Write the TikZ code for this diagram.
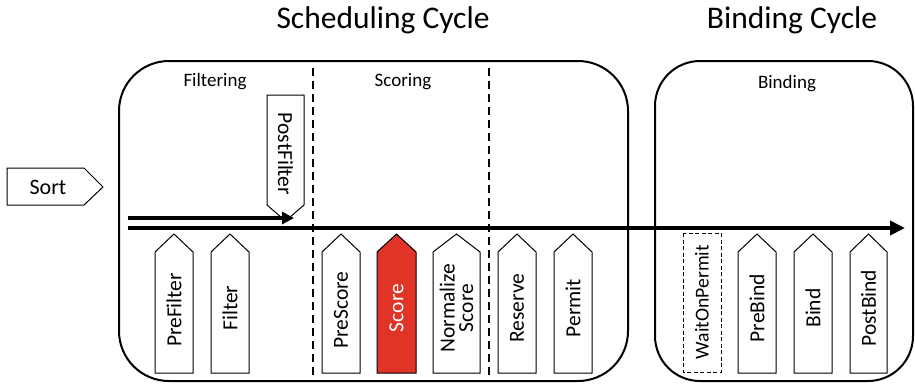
\documentclass[tikz,border=0pt]{standalone}
\usepackage{fontspec}
\setmainfont{Carlito}
\usetikzlibrary{arrows.meta}
\definecolor{scorered}{RGB}{224,52,38}
\tikzset{
  cyclebox/.style={draw, line width=2pt},
  sep/.style={draw, line width=1.5pt, dash pattern=on 8pt off 5pt},
  pent/.style={draw, line width=1pt, fill=white},
  boxtext/.style={font=\fontsize{21.5}{21.5}\selectfont, inner sep=0pt, rotate=90},
  phase/.style={font=\fontsize{19}{19}\selectfont, inner sep=0pt},
  title/.style={font=\fontsize{31.5}{31.5}\selectfont, inner sep=0pt},
  flow/.style={line width=4pt, -{Triangle[length=15pt,width=14pt]}},
}
\newcommand{\uppent}[5]{% x1, x2, label name, text, fill
  \path[pent, fill=#5] (#1,373) -- (#1,252) -- ({(#1+#2)/2},234) -- (#2,252) -- (#2,373) -- cycle;
}
\begin{document}
\begin{tikzpicture}[x=1pt,y=-1pt]
\useasboundingbox (0,0) rectangle (915,384);
% titles
\node[title] (tsched) at (383,20) {Scheduling Cycle};
\node[title] (tbind) at (792,20) {Binding Cycle};
% cycle boxes
\draw[cyclebox, rounded corners=50pt] (119,61) rectangle (628,381);
\draw[cyclebox, rounded corners=45pt] (655,61) rectangle (913,381);
% separators
\draw[sep] (313,68) -- (313,381);
\draw[sep] (489,68) -- (489,381);
% phase labels
\node[phase] (lfilt) at (215,82) {Filtering};
\node[phase] (lscor) at (403,82) {Scoring};
\node[phase] (lbind) at (787,84) {Binding};
% Sort
\draw[line width=1pt] (7,168) -- (84,168) -- (103,187) -- (84,205) -- (7,205) -- cycle;
\node[font=\fontsize{22}{22}\selectfont, inner sep=0pt] (sort) at (48,187) {Sort};
% main flow
\coordinate (ms) at (128,228);
\coordinate (me) at (905,228);
\draw[flow] (ms) -- (me);
% PostFilter
\draw[pent] (267,95) -- (304,95) -- (304,205) -- (285.5,221) -- (267,205) -- cycle;
\node[boxtext, rotate=180] (postfilter) at (285.5,154) {PostFilter};
\coordinate (fs) at (128,218);
\coordinate (fe) at (294,218);
\draw[line width=4pt, -{Triangle[length=12pt,width=12pt]}] (fs) -- (fe);
% bottom plugins
\uppent{155}{193}{prefilter}{PreFilter}{white}
\node[boxtext] (prefilter) at (174,310) {PreFilter};
\uppent{211}{249}{filter}{Filter}{white}
\node[boxtext] (filter) at (230,308) {Filter};
\uppent{322}{360}{prescore}{PreScore}{white}
\node[boxtext] (prescore) at (341,310) {PreScore};
\uppent{377}{416}{score}{Score}{scorered}
\node[boxtext, text=white] (score) at (396.5,308) {Score};
\uppent{433}{480}{normalize}{}{white}
\node[boxtext, align=center] (normalize) at (456.5,308) {Normalize\\[-3pt]Score};
\uppent{498}{536}{reserve}{}{white}
\node[boxtext] (reserve) at (517,308) {Reserve};
\uppent{554}{592}{permit}{}{white}
\node[boxtext] (permit) at (573,308) {Permit};
% binding plugins
\draw[line width=1pt, dash pattern=on 4pt off 2.5pt] (683,233) rectangle (721,372);
\node[boxtext, font=\fontsize{19.7}{19.7}\selectfont] (wait) at (702,302) {WaitOnPermit};
\uppent{738}{776}{prebind}{}{white}
\node[boxtext] (prebind) at (757,308) {PreBind};
\uppent{794}{832}{bind}{}{white}
\node[boxtext] (bind) at (813,308) {Bind};
\uppent{850}{887}{postbind}{}{white}
\node[boxtext] (postbind) at (868.5,308) {PostBind};
\end{tikzpicture}
\end{document}
